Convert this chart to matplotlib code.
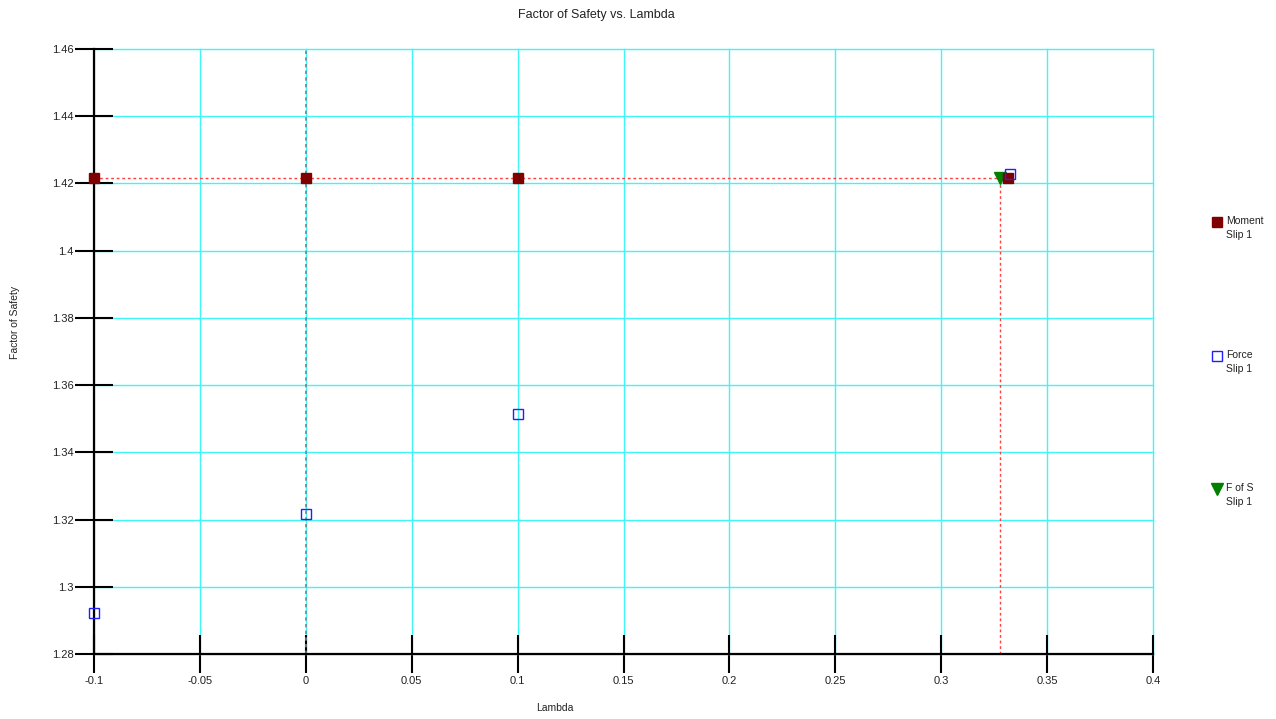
import matplotlib
matplotlib.use("Agg")
import matplotlib.pyplot as plt

plt.rcParams['font.family'] = ['Liberation Sans', 'DejaVu Sans']

# Factor of safety results per lambda value
moment_lambda = [-0.1, 0.0, 0.1, 0.3316]
moment_fs = [1.4217, 1.4217, 1.4217, 1.4217]

force_lambda = [-0.1, 0.0, 0.1, 0.3325]
force_fs = [1.2922, 1.3217, 1.3514, 1.4228]

fos_lambda = [0.3277]
fos_fs = [1.4217]

x_ticks = [-0.1, -0.05, 0, 0.05, 0.1, 0.15, 0.2, 0.25, 0.3, 0.35, 0.4]
x_tick_labels = ["-0.1", "-0.05", "0", "0.05", "0.1", "0.15", "0.2", "0.25", "0.3", "0.35", "0.4"]
y_ticks = [1.28, 1.3, 1.32, 1.34, 1.36, 1.38, 1.4, 1.42, 1.44, 1.46]
y_tick_labels = ["1.28", "1.3", "1.32", "1.34", "1.36", "1.38", "1.4", "1.42", "1.44", "1.46"]

W, H = 1276, 719
fig = plt.figure(figsize=(W / 100, H / 100), dpi=100)
ax = fig.add_axes([94 / W, 1 - 654 / H, (1153 - 94) / W, (654 - 49) / H])

ax.set_xlim(-0.1, 0.4)
ax.set_ylim(1.28, 1.46)
ax.set_xticks(x_ticks)
ax.set_xticklabels(x_tick_labels)
ax.set_yticks(y_ticks)
ax.set_yticklabels(y_tick_labels)

ax.grid(True, color='#40f5f5', linewidth=1.0, zorder=0)
ax.set_axisbelow(True)
for gl in ax.get_xgridlines() + ax.get_ygridlines():
    gl.set_clip_on(False)
for side in ('top', 'right'):
    ax.spines[side].set_visible(False)
for side in ('left', 'bottom'):
    ax.spines[side].set_linewidth(1.6)
    ax.spines[side].set_color('black')
    ax.spines[side].set_zorder(5)

ax.tick_params(axis='both', direction='inout', length=27, width=1.5,
               colors='black', labelsize=8, labelcolor='#222222')
ax.tick_params(axis='x', pad=2)
ax.tick_params(axis='y', pad=1)

# lambda = 0 reference line
ax.axvline(0, color='#6a8a8a', linestyle=(0, (2, 2)), linewidth=1.2, zorder=2)

# Crossing point guide lines
ax.plot([-0.1, fos_lambda[0]], [fos_fs[0], fos_fs[0]], color='#ff4040',
        linestyle=(0, (2, 2)), linewidth=1.0, zorder=3)
ax.plot([fos_lambda[0], fos_lambda[0]], [1.28, fos_fs[0]], color='#ff4040',
        linestyle=(0, (2, 2)), linewidth=1.0, zorder=3)

ax.plot(fos_lambda, fos_fs, linestyle='none', marker='v', markersize=8,
        color='#008000', zorder=6, clip_on=False)
ax.plot(moment_lambda, moment_fs, linestyle='none', marker='s', markersize=7.5,
        markerfacecolor='#800000', markeredgecolor='#800000', zorder=7, clip_on=False)
ax.plot(force_lambda, force_fs, linestyle='none', marker='s', markersize=7.5,
        markerfacecolor='none', markeredgecolor='#2020ff', markeredgewidth=1.0,
        zorder=8, clip_on=False)

fig.text(596 / W, 1 - 15 / H, "Factor of Safety vs. Lambda", ha='center', va='center',
         fontsize=9, color='#222222')
fig.text(555 / W, 1 - 708 / H, "Lambda", ha='center', va='center', fontsize=7.5,
         color='#222222')
fig.text(15 / W, 1 - 322 / H, "Factor of Safety", ha='center', va='center',
         rotation=90, fontsize=7.5, color='#222222')

# Legend entries on the right
legend_items = [
    ('s', '#800000', '#800000', "Moment\nSlip 1", 222),
    ('s', 'none', '#2020ff', "Force\nSlip 1", 356),
    ('v', '#008000', '#008000', "F of S\nSlip 1", 489),
]
for marker, face, edge, label, ypx in legend_items:
    fig.lines.append(plt.Line2D([1217 / W], [1 - ypx / H], marker=marker,
                                markersize=7.5 if marker == 's' else 8,
                                markerfacecolor=face, markeredgecolor=edge,
                                linestyle='none', transform=fig.transFigure))
    fig.text(1226.5 / W, 1 - (ypx - 6) / H, label, ha='left', va='top', fontsize=7.5,
             color='#222222', linespacing=1.45)

fig.savefig("out.png", dpi=100)
